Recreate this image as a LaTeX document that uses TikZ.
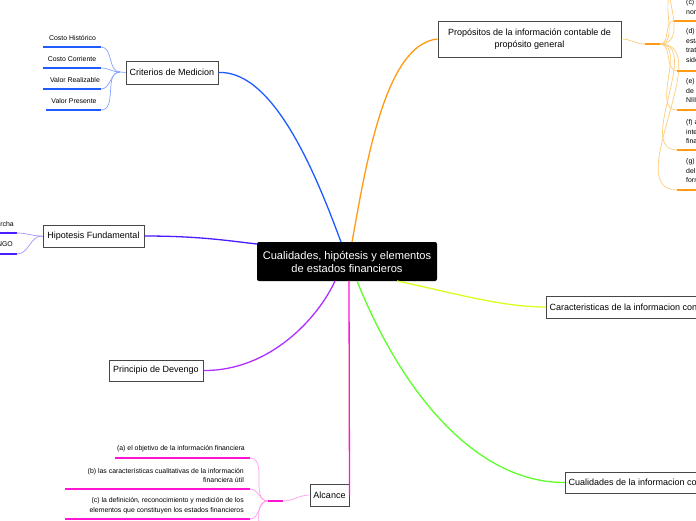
\documentclass[tikz,border=0pt]{standalone}
\usepackage{fontspec}
\setmainfont{Liberation Sans}
\definecolor{cblue}{HTML}{1F5BFF}
\definecolor{cbluel}{HTML}{86A2FF}
\definecolor{cviol}{HTML}{4A1CFF}
\definecolor{cviolL}{HTML}{A393FF}
\definecolor{cpurp}{HTML}{B02EFF}
\definecolor{cmag}{HTML}{FF14D2}
\definecolor{cmagL}{HTML}{FF9CEE}
\definecolor{cgreen}{HTML}{5CFF2A}
\definecolor{cyell}{HTML}{D8FF1E}
\definecolor{corng}{HTML}{FF9A12}
\definecolor{corngL}{HTML}{FFCC7A}
\begin{document}
\begin{tikzpicture}[x=1pt,y=-1pt,
  box/.style={draw=black!72, line width=1pt, fill=white, inner sep=0pt, font=\fontsize{9}{12.5}\selectfont},
  centre/.style={fill=black, rounded corners=2pt, text=white, inner sep=0pt, align=center, font=\fontsize{11.1}{13}\selectfont},
  leaf/.style={inner sep=0pt, font=\fontsize{6.9}{9.8}\selectfont},
  main/.style={line width=1.3pt},
  twig/.style={line width=0.7pt},
  under/.style={line width=1.8pt}]
\useasboundingbox (0,0) rectangle (696,520);
\clip (0,0) rectangle (696,520);

% central node
\node[centre, minimum width=180pt, minimum height=39pt] (root) at (347,261.5) {Cualidades, hipótesis y elementos\\de estados financieros};

% first-level nodes
\node[box, minimum width=92pt, minimum height=23pt] (crit) at (172,72.5) {Criterios de Medicion};
\node[box, minimum width=101pt, minimum height=22pt] (hipo) at (93.5,236) {Hipotesis Fundamental};
\node[box, minimum width=94pt, minimum height=21pt] (prin) at (156,370.5) {Principio de Devengo};
\node[box, minimum width=39pt, minimum height=22pt] (alc) at (329.5,495) {Alcance};
\node[box, minimum width=183pt, minimum height=36pt, align=center] (prop) at (529.5,39) {Propósitos de la información contable de\\propósito general};
\node[box, anchor=west, minimum height=22pt, inner xsep=3pt] (cara) at (546,307) {Caracteristicas de la informacion contable};
\node[box, anchor=west, minimum height=21pt, inner xsep=3pt] (cual) at (565,482.5) {Cualidades de la informacion contable};

% main connectors
\coordinate (rB) at (341,242);
\coordinate (rO) at (352,242);
\coordinate (rV) at (257,244);
\coordinate (rP) at (335,281);
\coordinate (rM) at (349,281);
\coordinate (rG) at (357,281);
\coordinate (rY) at (397,281);
\draw[main, cblue] (crit.east) .. controls (275,70) and (318,180) .. (rB);
\draw[main, corng] (rO) .. controls (366,165) and (385,44) .. (prop.west);
\draw[main, cviol] (hipo.east) .. controls (200,236) and (230,241) .. (rV);
\draw[main, cpurp] (prin.east) .. controls (270,371) and (318,318) .. (rP);
\draw[main, cmag] (rM) -- (alc.east);
\draw[main, cgreen] (rG) .. controls (405,400) and (480,483) .. (cual.west);
\draw[main, cyell] (rY) .. controls (450,292) and (500,307) .. (cara.west);

% Criterios children
\coordinate (jc) at (120,72);
\node[leaf] (c1) at (72.5,38) {Costo Histórico};
\node[leaf] (c2) at (72,59) {Costo Corriente};
\node[leaf] (c3) at (75,80) {Valor Realizable};
\node[leaf] (c4) at (74,101) {Valor Presente};
\coordinate (c1a) at (43,47);  \coordinate (c1b) at (101,47);
\coordinate (c2a) at (43,68);  \coordinate (c2b) at (101,68);
\coordinate (c3a) at (43,89);  \coordinate (c3b) at (101,89);
\coordinate (c4a) at (46,110); \coordinate (c4b) at (101,110);
\foreach \k in {1,2,3,4}{
  \draw[under, cblue] (c\k a) -- (c\k b);
  \draw[twig, cbluel] (c\k b) to[out=0,in=180] (jc);
}
\draw[twig, cbluel] (jc) -- (crit.west);

% Hipotesis children
\coordinate (jh) at (42,236);
\node[leaf, anchor=east] (h1) at (14,225) {Negocio en marcha};
\node[leaf, anchor=east] (h2) at (13,244) {Base de acumulación o DEVENGO};
\coordinate (h1a) at (-40,233); \coordinate (h1b) at (17,233);
\coordinate (h2a) at (-40,254); \coordinate (h2b) at (17,254);
\foreach \k in {1,2}{
  \draw[under, cviol] (h\k a) -- (h\k b);
  \draw[twig, cviolL] (h\k b) to[out=0,in=180] (jh);
}
\draw[twig, cviolL] (jh) -- (hipo.west);

% Alcance children
\coordinate (ja) at (268,501);
\coordinate (jb) at (283,501);
\node[leaf, anchor=east, align=right] (a1) at (245,449) {(a) el objetivo de la información financiera};
\node[leaf, anchor=east, align=right] (a2) at (244,475.5) {(b) las características cualitativas de la información\\financiera útil};
\node[leaf, anchor=east, align=right] (a3) at (244,506) {(c) la definición, reconocimiento y medición de los\\elementos que constituyen los estados financieros};
\coordinate (a1a) at (115,458); \coordinate (a1b) at (250,458);
\coordinate (a2a) at (65,489);  \coordinate (a2b) at (250,489);
\coordinate (a3a) at (65,519);  \coordinate (a3b) at (250,519);
\coordinate (a4b) at (250,552);
\foreach \k in {1,2,3}{
  \draw[under, cmag] (a\k a) -- (a\k b);
  \draw[twig, cmagL] (a\k b) to[out=0,in=180] (ja);
}
\draw[twig, cmagL] (a4b) to[out=0,in=180] (ja);
\draw[under, cmag] (ja) -- (jb);
\draw[twig, cmagL] (jb) to[out=0,in=180] (alc.west);

% Propositos children
\coordinate (jp) at (645,44);
\coordinate (jq) at (660,44);
\draw[twig, corngL] (prop.east) to[out=0,in=180] (jp);
\draw[under, corng] (jp) -- (jq);
\coordinate (pab) at (677,-58);
\coordinate (pbb) at (677,-8);
\coordinate (pcb) at (674,21);
\coordinate (pdb) at (677,71);
\coordinate (peb) at (677,110);
\coordinate (pfb) at (677,150);
\coordinate (pgb) at (677,190);
\foreach \k in {a,b,c,d,e,f,g}{
  \draw[twig, corngL] (jq) to[out=0,in=180] (p\k b);
}
\foreach \k in {c,d,e,f,g}{
  \draw[under, corng] (p\k b) -- ++(60,0);
}
\node[leaf, anchor=north west, align=left] (pc) at (686,-1) {(c) ayudar a los organismos nacionales emisores de\\normas en el desarrollo de las normas nacionales};
\node[leaf, anchor=north west, align=left] (pd) at (686,28) {(d) ayudar a los preparadores de los\\estados financieros en la aplicación de las NIIF y en el\\tratamiento de temas que todavía no han\\sido objeto de una NIIF};
\node[leaf, anchor=north west, align=left] (pe) at (686,78) {(e) ayudar a los auditores a formarse una opinión acerca\\de si los estados financieros cumplen con las\\NIIF};
\node[leaf, anchor=north west, align=left] (pf) at (686,119) {(f) ayudar a los usuarios de los estados financieros en la\\interpretación de la información contenida en los estados\\financieros preparados de acuerdo con las NIIF};
\node[leaf, anchor=north west, align=left] (pg) at (686,158) {(g) suministrar a quienes estén interesados en la labor\\del IASB información acerca de su enfoque para la\\formulación de las NIIF};
\end{tikzpicture}
\end{document}
